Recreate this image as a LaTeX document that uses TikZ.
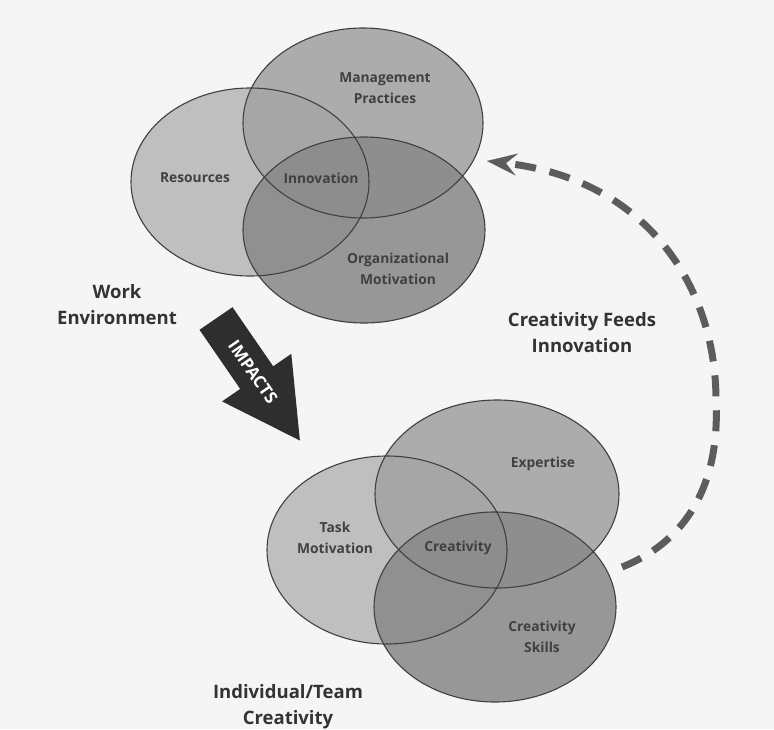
\documentclass[tikz,border=0pt]{standalone}
\usepackage{fontspec}
\setmainfont{Open Sans}
\usetikzlibrary{shapes.geometric,arrows.meta}
\definecolor{bgc}{gray}{0.96}
\definecolor{cA}{gray}{0.75}
\definecolor{cB}{gray}{0.64}
\definecolor{cC}{gray}{0.54}
\definecolor{edgec}{gray}{0.25}
\definecolor{txtc}{gray}{0.25}
\definecolor{darkc}{gray}{0.2}
\definecolor{arrowc}{gray}{0.18}
\definecolor{dashc}{gray}{0.36}
\tikzset{
  venn/.style={ellipse, draw=edgec, line width=1.1pt, inner sep=0pt},
  fA/.style={fill=cA},
  fB/.style={fill=cB, fill opacity=0.88},
  fC/.style={fill=cC, fill opacity=0.88},
  lab/.style={text=txtc, font=\bfseries\fontsize{13.8}{21}\selectfont, align=center, inner sep=0pt},
  big/.style={text=darkc, font=\bfseries\fontsize{18.5}{26}\selectfont, align=center, inner sep=0pt},
  feedline/.style={draw=dashc, line width=7pt, dash pattern=on 21pt off 14pt,
    -{Stealth[length=30pt,width=22pt,inset=11pt,line width=0.1pt]}},
}
\begin{document}
\begin{tikzpicture}[x=1pt,y=-1pt]
\fill[bgc] (0,0) rectangle (774,729);
\useasboundingbox (0,0) rectangle (774,729);

% ---- top Venn: fills
\fill[fA] (250,182) ellipse [x radius=119, y radius=94];
\fill[fB] (363,123) ellipse [x radius=120, y radius=95];
\fill[fC] (364,230) ellipse [x radius=121, y radius=93];
% outlines
\node[venn, minimum width=238pt, minimum height=188pt] (res) at (250,182) {};
\node[venn, minimum width=240pt, minimum height=190pt] (mgmt) at (363,123) {};
\node[venn, minimum width=242pt, minimum height=186pt] (org) at (364,230) {};

% ---- bottom Venn: fills
\fill[fA] (387,550) ellipse [x radius=120, y radius=94];
\fill[fB] (497,494) ellipse [x radius=122, y radius=94];
\fill[fC] (495,607) ellipse [x radius=121, y radius=95];
\node[venn, minimum width=240pt, minimum height=188pt] (task) at (387,550) {};
\node[venn, minimum width=244pt, minimum height=188pt] (exp) at (497,494) {};
\node[venn, minimum width=242pt, minimum height=190pt] (skl) at (495,607) {};

% ---- labels top
\node[lab] (mgmtL) at (385,88) {Management\\Practices};
\node[lab] (resL) at (195,178) {Resources};
\node[lab] (innL) at (321,178) {Innovation};
\node[lab] (orgL) at (398,269) {Organizational\\Motivation};

% ---- labels bottom
\node[lab] (taskL) at (335,538) {Task\\Motivation};
\node[lab] (creL) at (458,548) {Creativity};
\node[lab] (expL) at (543,464) {Expertise};
\node[lab] (sklL) at (542,637) {Creativity\\Skills};

% ---- big labels
\node[big] (work) at (117,305) {Work\\Environment};
\node[big] (feeds) at (582,333) {Creativity Feeds\\Innovation};
\node[big] (indiv) at (288,707) {Individual/Team\\Creativity};

% ---- IMPACTS arrow
\fill[arrowc] (199.5,329.8) -- (232.5,307.2) -- (273.2,366.3) -- (291.3,353.8)
  -- (299.9,440.5) -- (222.1,401.4) -- (240.2,388.9) -- cycle;
\node[text=white, font=\bfseries\fontsize{17}{17}\selectfont, rotate=-55.45, inner sep=0pt]
  (imp) at (253,372) {IMPACTS};

% ---- dashed feedback arrow
\coordinate (fs) at (622,567);
\coordinate (fe) at (487,161);
\draw[feedline] (fs) .. controls (690,540) and (720,480) .. (716,400)
  .. controls (716,290) and (650,180) .. (fe);
\end{tikzpicture}
\end{document}
